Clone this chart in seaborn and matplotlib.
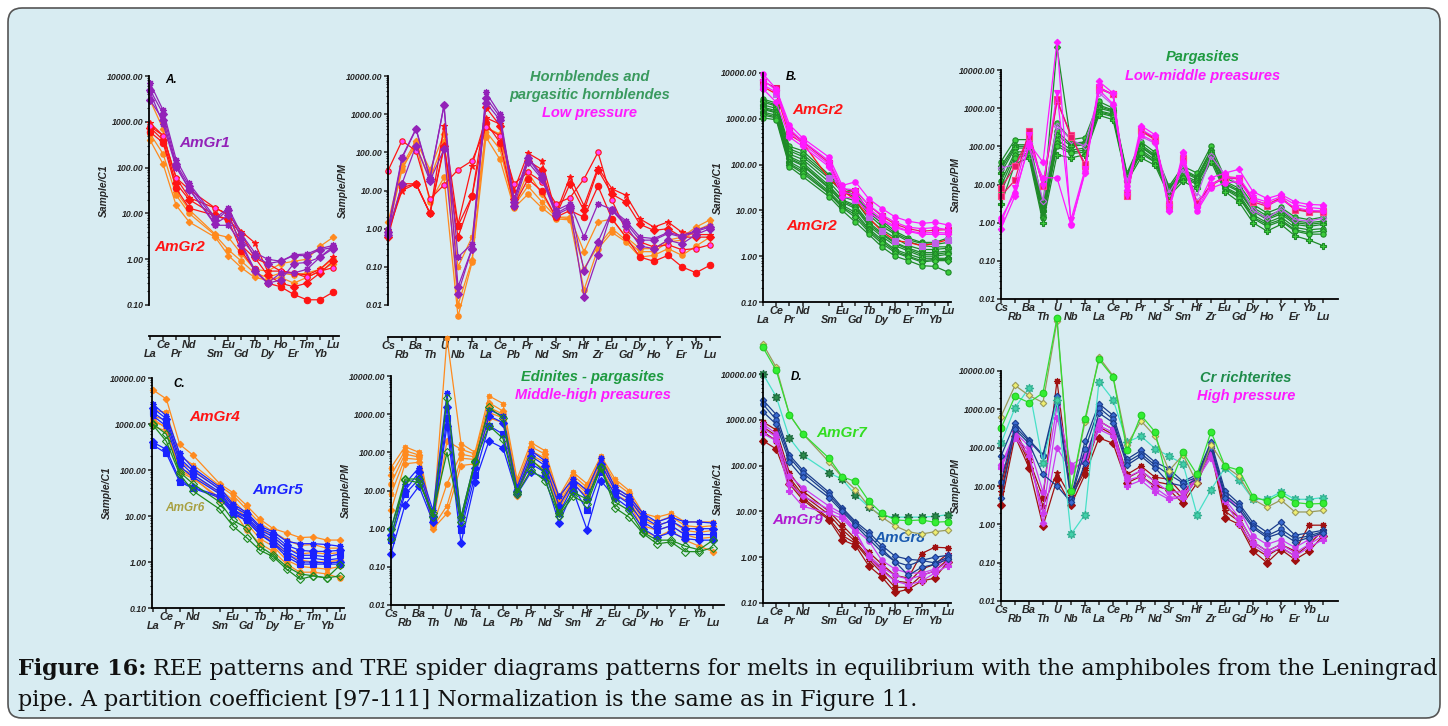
import numpy as np
import pandas as pd
import matplotlib
matplotlib.use("Agg")
import matplotlib.pyplot as plt
import seaborn as sns
from matplotlib.patches import FancyBboxPatch
from matplotlib.ticker import LogLocator, NullFormatter, FuncFormatter

# ---------------------------------------------------------------- elements
REE = ["La", "Ce", "Pr", "Nd", "Sm", "Eu", "Gd", "Tb", "Dy", "Ho", "Er", "Tm", "Yb", "Lu"]
REE_POS = [0, 1, 2, 3, 5, 6, 7, 8, 9, 10, 11, 12, 13, 14]          # gap left for Pm
SPIDER = ["Cs", "Rb", "Ba", "Th", "U", "Nb", "Ta", "La", "Ce", "Pb", "Pr", "Nd",
          "Sr", "Sm", "Hf", "Zr", "Eu", "Gd", "Dy", "Ho", "Y", "Er", "Yb", "Lu"]
SPIDER_POS = list(range(len(SPIDER)))

# ---------------------------------------------------------------- A: low pressure
A_REE_GR1 = [
    [7000, 1800, 150, 45, 8, 13, 3.5, 1.4, 1.0, 0.9, 1.25, 1.3, 1.7, 2.0],
    [5000, 1500, 120, 40, 7, 12, 2.8, 1.2, 0.8, 0.9, 1.2, 1.2, 1.6, 1.8],
    [4500, 900, 100, 35, 5.5, 5.5, 2.2, 0.6, 0.3, 0.5, 0.5, 0.6, 1.1, 1.9],
    [3000, 1100, 110, 33, 6, 9, 2.0, 0.55, 0.3, 0.35, 0.8, 0.85, 1.1, 1.7],
]
A_REE_GR2_RED = [
    [950, 500, 60, 22, 13, 9.5, 4.0, 2.3, 0.55, 0.55, 0.5, 0.45, 0.6, 1.1],
    [750, 400, 45, 20, 9, 7.5, 3.5, 1.1, 0.45, 0.3, 0.25, 0.3, 0.5, 0.9],
    [600, 350, 35, 13, 9, 7, 1.5, 0.6, 0.3, 0.25, 0.17, 0.13, 0.13, 0.19],
]
A_REE_GR2_PINK = [
    [800, 500, 60, 33, 13, 9.5, 2.0, 1.05, 0.8, 0.55, 0.5, 0.4, 0.55, 0.65],
]
A_REE_GR2_ORANGE = [
    [3000, 700, 30, 12, 3.5, 3.0, 1.3, 0.6, 0.55, 0.8, 0.9, 1.0, 1.9, 3.0],
    [550, 200, 25, 10, 3.3, 1.6, 0.9, 0.5, 0.4, 0.5, 0.45, 0.5, 0.6, 1.0],
    [400, 120, 15, 6.5, 3.0, 1.2, 0.65, 0.4, 0.35, 0.4, 0.3, 0.4, 0.55, 0.8],
]
A_SPI_GR1 = [
    [1.0, 75, 420, 22, 1700, 0.18, 0.4, 3700, 1000, 6, 75, 25, 3, 4.5, 0.6, 4.5, 3.2, 1.6, 0.6, 0.55, 0.8, 0.65, 0.9, 1.2],
    [0.7, 70, 400, 20, 1700, 0.03, 0.3, 2700, 850, 5, 70, 22, 2.5, 4, 0.08, 0.45, 3.0, 1.4, 0.5, 0.5, 0.75, 0.6, 0.85, 1.1],
    [0.8, 15, 150, 18, 120, 0.02, 0.3, 2000, 700, 4, 55, 20, 2.3, 3.5, 0.016, 0.2, 3.0, 1.2, 0.35, 0.3, 0.5, 0.4, 0.7, 1.0],
]
A_SPI_GR2_RED = [
    [0.8, 10, 15, 2.5, 500, 1.3, 45, 800, 550, 10, 95, 58, 2.5, 23, 4, 40, 11, 7.5, 1.8, 1.1, 1.5, 0.8, 0.7, 0.7],
    [0.6, 15, 15, 2.5, 150, 0.6, 7, 1500, 500, 6, 60, 35, 2.2, 15, 3, 35, 8, 5, 1.3, 0.9, 1.0, 0.6, 0.6, 0.6],
    [0.8, 12, 15, 2.5, 130, 1.2, 7, 600, 180, 4, 20, 9.5, 2, 3, 2, 13, 1.8, 0.6, 0.18, 0.14, 0.2, 0.1, 0.07, 0.11],
]
A_SPI_GR2_PINK = [
    [33, 200, 110, 6, 14, 35, 60, 450, 270, 15, 30, 17, 4.5, 6.5, 20, 100, 5.5, 0.9, 0.45, 0.33, 0.38, 0.28, 0.3, 0.38],
]
A_SPI_GR2_ORANGE = [
    [1.5, 45, 200, 35, 300, 0.01, 0.15, 450, 300, 4, 30, 8, 2, 2, 0.25, 1.5, 1.8, 0.6, 0.3, 0.3, 0.5, 0.6, 1.1, 1.7],
    [0.9, 35, 180, 5, 22, 0.005, 0.13, 250, 65, 3.5, 8, 3.5, 1.8, 1.7, 0.025, 0.3, 0.8, 0.45, 0.18, 0.2, 0.3, 0.2, 0.35, 0.6],
    [1.0, 40, 150, 20, 200, 0.1, 0.6, 350, 120, 4, 13, 5, 2.0, 1.8, 0.09, 0.35, 1.0, 0.5, 0.25, 0.25, 0.45, 0.5, 0.9, 1.3],
]

# ---------------------------------------------------------------- B: low-middle pressure
B_REE_MAGENTA = [
    [9500, 4500, 750, 380, 145, 35, 42, 18, 11, 7.2, 5.8, 5.2, 5.5, 4.8],
    [7000, 4200, 600, 330, 120, 30, 28, 13, 8, 5.5, 4.3, 4.0, 4.2, 3.8],
    [5500, 3800, 500, 290, 100, 25, 22, 11, 6.5, 4.5, 3.6, 3.2, 3.3, 3.2],
    [4500, 2300, 400, 250, 90, 20, 18, 9, 6, 4.2, 3.5, 3.0, 3.0, 3.0],
]
B_REE_CRIMSON = [
    [6500, 4700, 550, 320, 110, 25, 27, 13, 7.5, 5, 4, 3.5, 3.7, 3.8],
]
B_REE_RED = [
    [5000, 3500, 450, 300, 50, 27, 17, 7, 3.5, 2.2, 2.0, 1.7, 1.9, 2.3],
]
B_REE_GREEN = [
    [2700, 2200, 250, 200, 60, 30, 25, 10, 6, 3.5, 2.5, 2.0, 2.0, 2.5],
    [2500, 2000, 220, 170, 55, 27, 22, 9, 5.2, 3.2, 2.3, 1.9, 1.8, 2.0],
    [2300, 1900, 200, 150, 50, 25, 20, 8, 4.5, 3.0, 2.1, 1.7, 1.6, 1.6],
    [2000, 1700, 170, 130, 42, 20, 16, 6.5, 3.8, 2.5, 1.7, 1.4, 1.4, 1.5],
    [1800, 1500, 150, 110, 35, 17, 13, 5.5, 3.2, 2.0, 1.5, 1.2, 1.2, 1.3],
    [1700, 1400, 140, 100, 32, 16, 12, 5, 3.0, 1.9, 1.4, 1.1, 1.1, 1.2],
    [1600, 1350, 130, 95, 30, 15, 11, 4.6, 2.7, 1.7, 1.3, 1.0, 1.0, 1.1],
    [1400, 1200, 115, 80, 26, 13, 9, 4.0, 2.3, 1.4, 1.1, 0.9, 0.9, 0.9],
    [1300, 1100, 105, 72, 24, 12, 8, 3.7, 2.1, 1.3, 1.0, 0.8, 0.85, 0.85],
    [1200, 1050, 100, 65, 23, 11.5, 7, 3.4, 1.9, 1.2, 0.95, 0.75, 0.8, 0.8],
    [1050, 950, 90, 55, 20, 10, 5.5, 3.0, 1.6, 1.0, 0.8, 0.62, 0.6, 0.45],
]
B_SPI_MAGENTA = [
    [0.7, 5, 120, 38, 55000, 0.9, 20, 5000, 2500, 7, 350, 200, 2.0, 70, 2.5, 15, 20, 25, 6.5, 4.3, 5.5, 3.5, 3.0, 2.9],
    [1.0, 8, 200, 9, 2500, 1.2, 25, 3500, 2200, 5, 280, 170, 2.5, 55, 2.2, 10, 15, 15, 4.5, 3.5, 4.8, 3.0, 2.5, 2.3],
    [1.3, 6, 100, 15, 15, 0.85, 22, 3000, 1300, 9, 200, 130, 2.2, 40, 2.0, 8, 11, 12, 4.0, 3.0, 4.0, 2.5, 2.1, 2.0],
]
B_SPI_CRIMSON = [
    [5, 13, 250, 9, 1500, 200, 30, 3500, 2300, 6, 250, 150, 3, 50, 3, 10, 16, 15, 4, 3, 4.5, 2.3, 2, 2],
    [8, 30, 180, 9, 1700, 180, 35, 3200, 2300, 5, 270, 160, 2.8, 45, 3.2, 9.5, 15, 14, 3.5, 2.7, 4.3, 2.2, 1.9, 1.9],
]
B_SPI_VIOLET = [
    [27, 33, 100, 3.8, 350, 150, 100, 2500, 1200, 12, 180, 120, 6, 25, 5, 55, 18, 10, 2.1, 1.3, 2.3, 1.2, 1.1, 1.3],
]
B_SPI_GREEN = [
    [40, 150, 150, 3, 400, 150, 170, 1500, 1000, 20, 130, 70, 9, 30, 20, 100, 15, 10, 3.0, 1.8, 2.5, 1.4, 1.2, 1.4],
    [30, 110, 110, 2.5, 40000, 120, 130, 1200, 900, 18, 110, 60, 8, 25, 16, 80, 12, 8, 2.5, 1.5, 2.1, 1.1, 1.0, 1.1],
    [25, 100, 100, 2.2, 250, 110, 120, 1100, 850, 17, 100, 55, 7.5, 23, 15, 75, 11, 7, 2.2, 1.3, 1.9, 1.0, 0.9, 1.0],
    [20, 90, 90, 2.0, 200, 100, 110, 1000, 800, 16, 95, 52, 7, 21, 14, 65, 10, 6.5, 2.0, 1.2, 1.7, 0.9, 0.8, 0.9],
    [12, 70, 75, 1.6, 150, 80, 90, 850, 700, 14, 80, 45, 6, 18, 12, 55, 8.5, 5.5, 1.6, 1.0, 1.4, 0.75, 0.65, 0.7],
    [9, 60, 65, 1.4, 120, 70, 80, 800, 650, 13, 72, 40, 6, 16, 11, 50, 8, 5, 1.4, 0.9, 1.2, 0.65, 0.55, 0.6],
    [6, 50, 60, 1.3, 100, 65, 70, 750, 600, 13, 65, 38, 5.5, 15, 10, 48, 7.5, 4.5, 1.3, 0.8, 1.1, 0.6, 0.5, 0.5],
    [3, 35, 50, 1.0, 60, 50, 60, 650, 500, 12, 50, 32, 5, 12, 8, 40, 6.5, 3.5, 1.0, 0.6, 0.9, 0.45, 0.35, 0.25],
]

# ---------------------------------------------------------------- C: middle-high pressure
C_REE_ORANGE = [
    [5500, 3500, 360, 210, 50, 32, 17, 8.5, 5.3, 4.3, 3.4, 3.5, 3.0, 3.0],
    [2000, 1800, 200, 130, 45, 28, 14, 7, 4.5, 3.0, 2.3, 2.4, 2.0, 2.0],
    [1500, 1200, 150, 100, 38, 22, 11, 5.5, 3.5, 2.0, 1.5, 1.6, 1.5, 1.6],
    [1100, 900, 110, 80, 30, 18, 9, 4.2, 2.8, 1.5, 1.1, 1.0, 1.0, 1.1],
    [900, 700, 90, 65, 25, 15, 7, 3.2, 2.2, 1.1, 0.8, 0.75, 0.7, 0.8],
    [1300, 800, 100, 70, 22, 13, 5, 2.5, 1.7, 0.9, 0.6, 0.6, 0.55, 0.45],
]
C_REE_BLUE = [
    [2700, 1500, 230, 110, 42, 18, 12, 6, 4.5, 2.8, 2.5, 2.5, 2.4, 2.2],
    [2200, 1300, 180, 95, 38, 16, 11, 5.5, 4.0, 2.3, 1.8, 1.7, 1.7, 1.8],
    [1800, 1100, 150, 80, 33, 14, 9.5, 5, 3.5, 2.0, 1.4, 1.4, 1.3, 1.5],
    [1500, 900, 120, 70, 30, 13, 9, 4.5, 3.0, 1.7, 1.2, 1.2, 1.1, 1.2],
    [400, 280, 60, 42, 27, 12, 8, 4, 2.6, 1.5, 1.0, 1.0, 0.95, 1.0],
    [350, 230, 55, 40, 25, 11, 8, 4, 2.5, 1.3, 0.9, 0.9, 0.9, 0.9],
]
C_REE_GREEN = [
    [950, 420, 80, 35, 14, 6, 3.4, 1.8, 1.3, 0.7, 0.42, 0.5, 0.45, 0.5],
    [1000, 600, 90, 50, 20, 8, 5.5, 2.2, 1.4, 0.8, 0.55, 0.5, 0.45, 0.85],
]
C_SPI_ORANGE = [
    [40, 140, 100, 1.5, 100000, 170, 100, 3000, 1900, 20, 180, 110, 7, 30, 15, 80, 20, 10, 2.5, 2.0, 2.5, 1.5, 1.5, 1.5],
    [25, 110, 85, 1.3, 200, 120, 90, 2000, 1200, 15, 140, 90, 5.5, 25, 12, 70, 16, 8.5, 2.0, 1.5, 2.1, 1.2, 1.1, 1.2],
    [15, 90, 75, 1.2, 15, 90, 75, 1500, 1000, 12, 110, 70, 4.5, 20, 10, 60, 12, 7, 1.6, 1.2, 1.6, 0.9, 0.8, 0.9],
    [8, 70, 65, 1.1, 4, 70, 65, 1100, 800, 9, 85, 55, 3.8, 18, 8.5, 50, 10, 6, 1.2, 0.9, 1.2, 0.7, 0.55, 0.6],
    [3, 50, 55, 1.0, 2.5, 45, 50, 800, 600, 7, 60, 35, 3.2, 15, 7, 40, 8, 5, 0.9, 0.6, 0.9, 0.5, 0.35, 0.25],
]
C_SPI_BLUE = [
    [1.0, 15, 40, 3, 3500, 2.0, 60, 1300, 900, 12, 110, 60, 7, 20, 10, 70, 12, 7, 2.5, 1.5, 2.0, 1.5, 1.5, 1.4],
    [0.7, 10, 30, 2.2, 1500, 1.2, 40, 900, 600, 10, 80, 45, 4, 16, 6, 50, 10, 6, 2.0, 1.2, 1.6, 1.0, 1.0, 1.0],
    [0.5, 8, 20, 1.8, 800, 0.9, 25, 500, 300, 9, 50, 30, 2.5, 13, 3, 30, 8, 4.5, 1.5, 0.9, 1.2, 0.7, 0.7, 0.7],
    [0.22, 4.2, 13, 1.5, 500, 0.42, 17, 200, 130, 8, 30, 22, 1.4, 10, 0.95, 18, 6.5, 3.5, 1.0, 0.6, 0.8, 0.55, 0.5, 0.5],
]
C_SPI_GREEN = [
    [1.0, 20, 20, 2, 2600, 2, 60, 1500, 800, 9, 65, 30, 2.5, 9, 6, 42, 5, 3, 0.8, 0.5, 0.5, 0.35, 0.28, 0.5],
    [0.55, 19, 16, 2.5, 100, 1.5, 55, 500, 230, 8, 35, 18, 2.2, 7, 4.5, 40, 3.5, 2, 0.75, 0.4, 0.45, 0.25, 0.25, 0.32],
]

# ---------------------------------------------------------------- D: high pressure
D_REE_LIME = [[38000, 12000, 1300, 500, 145, 57, 45, 17, 9, 6.5, 6.3, 6.5, 5.8, 6.0]]
D_REE_OLIVE = [[45000, 14000, 1300, 500, 120, 55, 30, 13, 7.5, 4.8, 3.6, 3.2, 3.6, 3.9]]
D_REE_AQUA = [[10000, 3200, 400, 170, 70, 50, 23, 12.5, 8, 7.5, 7.5, 7.5, 7.8, 8.5]]
D_REE_NAVY = [
    [2700, 1300, 170, 80, 26, 12, 6, 3.5, 1.8, 1.05, 0.9, 0.85, 1.0, 1.1],
    [2200, 1000, 150, 70, 23, 11, 5.5, 3.0, 1.5, 0.8, 0.65, 0.85, 0.75, 1.0],
    [1500, 800, 120, 55, 20, 10, 5, 2.5, 1.3, 0.8, 0.4, 0.6, 0.7, 0.9],
]
D_REE_DARKRED = [
    [900, 600, 70, 28, 10, 5, 2.5, 1.3, 0.7, 0.4, 0.35, 1.2, 1.65, 1.6],
    [700, 450, 55, 23, 8.5, 4, 2.2, 1.0, 0.55, 0.3, 0.28, 0.55, 0.7, 1.2],
    [550, 350, 48, 20, 7, 3, 2.0, 0.9, 0.45, 0.22, 0.22, 0.4, 0.5, 0.9],
    [350, 230, 40, 18, 6.5, 2.4, 1.8, 0.65, 0.37, 0.17, 0.2, 0.3, 0.35, 0.8],
]
D_REE_VIOLET = [
    [800, 500, 60, 33, 13, 9, 4, 2.3, 0.85, 0.55, 0.45, 0.45, 0.55, 1.1],
    [650, 420, 40, 22, 11, 8, 3.7, 1.1, 0.6, 0.4, 0.33, 0.4, 0.5, 0.8],
    [500, 350, 28, 13, 9, 7, 3.5, 1.0, 0.5, 0.3, 0.25, 0.3, 0.45, 0.65],
]
D_SPI_LIME = [[320, 2200, 1500, 2700, 240000, 7.5, 570, 20000, 7000, 85, 700, 260, 9.5, 75, 20, 260, 33, 26, 5.3, 4.0, 6.2, 3.7, 3.4, 3.5]]
D_SPI_OLIVE = [[650, 4200, 2300, 1500, 200000, 7, 470, 23000, 7500, 120, 500, 200, 25, 65, 12, 120, 33, 18, 4.5, 2.8, 4.3, 2.1, 2.1, 2.3]]
D_SPI_AQUA = [[130, 1100, 3600, 40, 1700, 0.55, 1.8, 5300, 1800, 140, 200, 95, 60, 38, 1.8, 8, 30, 14, 4.5, 4.5, 7, 4.5, 4.5, 5]]
D_SPI_NAVY = [
    [60, 450, 160, 65, 2200, 5, 150, 1400, 700, 50, 85, 42, 28, 13, 20, 140, 7.5, 3.5, 1.1, 0.62, 1.15, 0.52, 0.6, 0.7],
    [13, 350, 150, 60, 1500, 4.5, 90, 1100, 550, 42, 70, 35, 20, 12, 17, 120, 6, 3.0, 0.9, 0.5, 0.75, 0.42, 0.5, 0.65],
    [5, 300, 130, 20, 10, 3.8, 40, 800, 450, 35, 60, 30, 12, 10, 15, 100, 5, 2.5, 0.8, 0.45, 0.6, 0.35, 0.45, 0.6],
]
D_SPI_DARKRED = [
    [10, 300, 50, 5, 5600, 6, 30, 500, 300, 20, 33, 17, 15, 6, 20, 110, 3, 1.5, 0.35, 0.2, 0.3, 0.2, 0.95, 0.95],
    [7, 250, 40, 3, 22, 5, 25, 350, 220, 16, 25, 13, 11, 4.5, 16, 95, 2.2, 1.2, 0.25, 0.15, 0.25, 0.15, 0.3, 0.7],
    [3.2, 200, 30, 0.9, 15, 3.2, 20, 180, 130, 12, 18, 10, 8, 3.5, 12, 80, 1.5, 1.0, 0.2, 0.1, 0.22, 0.12, 0.2, 0.5],
]
D_SPI_VIOLET = [
    [35, 250, 110, 7, 1200, 35, 60, 500, 300, 17, 25, 13, 7, 7, 20, 80, 6, 2.5, 0.5, 0.3, 0.4, 0.25, 0.4, 0.6],
    [35, 200, 80, 1.1, 100, 25, 45, 380, 250, 14, 18, 9, 5, 5.5, 17, 65, 4.5, 1.5, 0.35, 0.2, 0.3, 0.18, 0.3, 0.5],
    [30, 180, 60, 2, 600, 30, 40, 300, 200, 10, 14, 7, 4.5, 5, 15, 55, 4, 1.0, 0.3, 0.17, 0.25, 0.15, 0.25, 0.4],
]

# ---------------------------------------------------------------- styling
sns.set_style("ticks")
plt.rcParams["font.family"] = ["Liberation Sans", "DejaVu Sans"]

W, H = 1448, 726
BG = "#d8ecf2"
SUN = (8, 1, 0)      # eight-pointed star

PURPLE, RED, ORANGE, PINK = "#9322b8", "#ff1414", "#ff8a1e", "#ff44ff"
MAGENTA, CRIMSON, VIOLET = "#ff1aff", "#e8186a", "#c060e8"
GREEN, LGREEN = "#1e8a28", "#3ccc3c"
BLUE, DKGREEN = "#1a22ff", "#1e8a1e"
LIME, OLIVE, AQUA = "#33ee33", "#9a9a5a", "#48e0c8"
NAVY, DARKRED, DVIOLET = "#1a3c8c", "#a01010", "#cc3cee"

fig = plt.figure(figsize=(W / 100, H / 100), dpi=100, facecolor="white")

# page background with rounded frame
bg = fig.add_axes([0, 0, 1, 1])
bg.set_xlim(0, W)
bg.set_ylim(H, 0)
bg.axis("off")
bg.add_patch(FancyBboxPatch((8, 8), W - 16, H - 16,
                            boxstyle="round,pad=0,rounding_size=14",
                            fc=BG, ec="#555555", lw=1.2))

TICK_FONT = dict(fontsize=6.3, fontweight="bold", fontstyle="italic")
ELEM_FONT = dict(fontsize=7.8, fontweight="bold", fontstyle="italic")


def make_axes(left, top, bottom, x_first, x_last, px_per_unit, right, kind, offset_px=0):
    ax = fig.add_axes([left / W, 1 - bottom / H, (right - left) / W, (bottom - top) / H])
    ax.set_facecolor("none")
    ax.set_yscale("log")
    x0 = (left - x_first) / px_per_unit
    x1 = (right - x_first) / px_per_unit
    ax.set_xlim(x0, x1)
    if kind == "ree":
        ax.set_ylim(0.1, 10000)
        labels, pos, first_low, ylab = REE, REE_POS, True, "Sample/C1"
    else:
        ax.set_ylim(0.01, 10000)
        labels, pos, first_low, ylab = SPIDER, SPIDER_POS, False, "Sample/PM"
    for s in ("top", "right"):
        ax.spines[s].set_visible(False)
    for s in ("left", "bottom"):
        ax.spines[s].set_linewidth(1.3)
        ax.spines[s].set_color("black")
    if offset_px:
        ax.spines["bottom"].set_position(("outward", offset_px * 0.72))
    ax.yaxis.set_major_locator(LogLocator(base=10, numticks=12))
    ax.yaxis.set_minor_locator(LogLocator(base=10, subs=np.arange(2, 10), numticks=40))
    ax.yaxis.set_minor_formatter(NullFormatter())
    ax.yaxis.set_major_formatter(FuncFormatter(lambda v, p: f"{v:.2f}"))
    ax.tick_params(axis="y", which="major", length=3, width=1.1, pad=0.8, direction="out")
    ax.tick_params(axis="y", which="minor", length=1.8, width=0.8, direction="out")
    ax.tick_params(axis="x", which="major", length=3, width=1.1, direction="out")
    ax.set_xticks(pos)
    ax.set_xticklabels(labels, **ELEM_FONT)
    for i, tk in enumerate(ax.xaxis.get_major_ticks()):
        low = (i % 2 == 0) == first_low
        tk.set_pad(6.2 if low else 0.2)
    ax.yaxis.set_label_coords(-40 / (right - left), 0.5)
    return ax


def draw(ax, pos, series, color, markers, mfc=None, mec=None, ms=3.9, lw=0.9):
    for i, vals in enumerate(series):
        df = pd.DataFrame({"x": pos, "y": vals})
        m = markers[i % len(markers)]
        size = ms * 0.85 if m == "D" else ms
        sns.lineplot(data=df, x="x", y="y", ax=ax, color=color,
                     marker=m, markersize=size,
                     markerfacecolor=mfc or color, markeredgecolor=mec or color,
                     markeredgewidth=0.8, linewidth=lw, estimator=None,
                     legend=False, clip_on=False)


def finish(ax, kind):
    ax.set_xlabel("")
    ax.set_ylabel("Sample/C1" if kind == "ree" else "Sample/PM",
                  fontsize=7.4, fontweight="bold", fontstyle="italic")
    for t in ax.get_yticklabels():
        t.set(**TICK_FONT)
    for t in ax.get_xticklabels():
        t.set(**ELEM_FONT)


# ---------------- panel A
axA1 = make_axes(149, 76, 305, 150, 333, 13.07, 339, "ree", offset_px=31)
draw(axA1, REE_POS, A_REE_GR2_ORANGE, ORANGE, ["D", "o", "D"])
draw(axA1, REE_POS, A_REE_GR2_RED, RED, ["*", "D", "o"], ms=4.6)
draw(axA1, REE_POS, A_REE_GR2_PINK, RED, ["o"], mfc=PINK, mec=RED)
draw(axA1, REE_POS, A_REE_GR1, PURPLE, [SUN, "D", SUN, "D"], ms=4.8)
finish(axA1, "ree")

axA2 = make_axes(388, 76, 305, 388, 710, 14.0, 720, "spider", offset_px=32)
draw(axA2, SPIDER_POS, A_SPI_GR2_ORANGE, ORANGE, ["D", "o", SUN])
draw(axA2, SPIDER_POS, A_SPI_GR2_RED, RED, ["*", "D", "o"], ms=4.6)
draw(axA2, SPIDER_POS, A_SPI_GR2_PINK, RED, ["o"], mfc=PINK, mec=RED)
draw(axA2, SPIDER_POS, A_SPI_GR1, PURPLE, [SUN, "D", "D"], ms=4.8)
finish(axA2, "spider")

# ---------------- panel B
axB1 = make_axes(763, 73, 302, 763, 948, 13.21, 951, "ree")
draw(axB1, REE_POS, B_REE_GREEN, GREEN, ["o", "D", "o", "P"], mfc=LGREEN, mec=GREEN, ms=3.8)
draw(axB1, REE_POS, B_REE_RED, RED, ["s"], mfc=VIOLET, mec=VIOLET)
draw(axB1, REE_POS, B_REE_CRIMSON, CRIMSON, ["s"], mfc=CRIMSON, mec=CRIMSON, ms=4.4)
draw(axB1, REE_POS, B_REE_MAGENTA, MAGENTA, ["o", "D", "o", "D"])
finish(axB1, "ree")

axB2 = make_axes(1001, 70, 299, 1001, 1323, 14.0, 1338, "spider")
draw(axB2, SPIDER_POS, B_SPI_GREEN, GREEN, ["o", "D", "o", "P"], mfc=LGREEN, mec=GREEN, ms=3.8)
draw(axB2, SPIDER_POS, B_SPI_VIOLET, VIOLET, ["D"], mfc="none", mec=VIOLET)
draw(axB2, SPIDER_POS, B_SPI_CRIMSON, CRIMSON, ["s"], mfc=CRIMSON, mec="#ff4488", ms=4.4)
draw(axB2, SPIDER_POS, B_SPI_MAGENTA, MAGENTA, ["D", "v", "o"])
finish(axB2, "spider")

# ---------------- panel C
axC1 = make_axes(152, 378, 608, 153, 340, 13.36, 344, "ree")
draw(axC1, REE_POS, C_REE_ORANGE, ORANGE, ["D", SUN, "o"])
draw(axC1, REE_POS, C_REE_BLUE, BLUE, [SUN, "D", "s"], ms=4.6)
draw(axC1, REE_POS, C_REE_GREEN, DKGREEN, ["D"], mfc="none", mec=DKGREEN, ms=4.6)
finish(axC1, "ree")

axC2 = make_axes(391, 376, 605, 391, 713, 14.0, 724, "spider")
draw(axC2, SPIDER_POS, C_SPI_ORANGE, ORANGE, [SUN, "D", "o"])
draw(axC2, SPIDER_POS, C_SPI_BLUE, BLUE, [SUN, "D", "s", "D"], ms=4.6)
draw(axC2, SPIDER_POS, C_SPI_GREEN, DKGREEN, ["D"], mfc="none", mec=DKGREEN, ms=4.6)
finish(axC2, "spider")

# ---------------- panel D
axD1 = make_axes(763, 374, 603, 763, 948, 13.21, 951, "ree")
draw(axD1, REE_POS, D_REE_DARKRED, DARKRED, [SUN, "*", SUN, "D"], ms=4.8)
draw(axD1, REE_POS, D_REE_VIOLET, DVIOLET, ["o", "D", "P"])
draw(axD1, REE_POS, D_REE_NAVY, NAVY, ["D", "o", "D"], mfc="#3a6ad0", mec=NAVY)
draw(axD1, REE_POS, D_REE_AQUA, AQUA, [SUN], mfc="#2a8a4a", mec="#1a6a3a", ms=6.3)
draw(axD1, REE_POS, D_REE_OLIVE, OLIVE, ["D"], mfc="#eeee70", mec=OLIVE)
draw(axD1, REE_POS, D_REE_LIME, "#33dd33", ["o"], mfc=LIME, mec="#22cc22", ms=4.8)
finish(axD1, "ree")

axD2 = make_axes(1001, 371, 601, 1001, 1323, 14.0, 1338, "spider")
draw(axD2, SPIDER_POS, D_SPI_DARKRED, DARKRED, [SUN, "*", "D"], ms=4.8)
draw(axD2, SPIDER_POS, D_SPI_VIOLET, DVIOLET, ["o", "D", "P"])
draw(axD2, SPIDER_POS, D_SPI_NAVY, NAVY, ["D", "o", "D"], mfc="#3a6ad0", mec=NAVY)
draw(axD2, SPIDER_POS, D_SPI_AQUA, AQUA, [SUN], mfc="#40d0a8", mec="#30b090", ms=6.3)
draw(axD2, SPIDER_POS, D_SPI_OLIVE, OLIVE, ["D"], mfc="#eeee70", mec=OLIVE)
draw(axD2, SPIDER_POS, D_SPI_LIME, "#33dd33", ["o"], mfc=LIME, mec="#22cc22", ms=4.8)
finish(axD2, "spider")

# ---------------- annotations
LBL = dict(fontweight="bold", fontstyle="italic", ha="center", va="center", zorder=5)


def note(x, y, text, color, size):
    bg.text(x, y, text, color=color, fontsize=size, **LBL)


for x, y, t in [(171, 80, "A."), (792, 77, "B."), (179, 384, "C."), (797, 377, "D.")]:
    note(x, y, t, "black", 8.4)

note(205, 143, "AmGr1", PURPLE, 11)
note(180, 247, "AmGr2", RED, 11)
note(590, 77, "Hornblendes and", "#3a9a5e", 10.5)
note(590, 95, "pargasitic hornblendes", "#3a9a5e", 10.5)
note(590, 113, "Low pressure", MAGENTA, 10.5)

note(818, 110, "AmGr2", RED, 11)
note(812, 226, "AmGr2", RED, 11)
note(1203, 57, "Pargasites", "#1e9a40", 10.5)
note(1203, 76, "Low-middle preasures", MAGENTA, 10.5)

note(215, 417, "AmGr4", RED, 11)
note(278, 490, "AmGr5", BLUE, 11)
note(185, 508, "AmGr6", "#a8a040", 8.5)
note(593, 377, "Edinites - pargasites", "#1e9a40", 10.5)
note(593, 395, "Middle-high preasures", MAGENTA, 10.5)

note(842, 433, "AmGr7", "#33dd22", 11)
note(798, 520, "AmGr9", "#b01ad0", 11)
note(900, 538, "AmGr8", "#1a5ab0", 11)
note(1246, 378, "Cr richterites", "#1e8c4a", 10.5)
note(1246, 396, "High pressure", MAGENTA, 10.5)

# ---------------- caption
CAP = dict(fontsize=16, family=["DejaVu Serif"], color="#111111", va="bottom")
head = bg.text(18, 680, "Figure 16:", fontweight="bold", **CAP)
bg.annotate(" REE patterns and TRE spider diagrams patterns for melts in equilibrium with "
            "the amphiboles from the Leningrad", xy=(1, 0), xycoords=head, **CAP)
bg.text(18, 711, "pipe. A partition coefficient [97-111] Normalization is the same as in Figure 11.",
        **CAP)

fig.savefig("out.png", dpi=100, facecolor="white")
